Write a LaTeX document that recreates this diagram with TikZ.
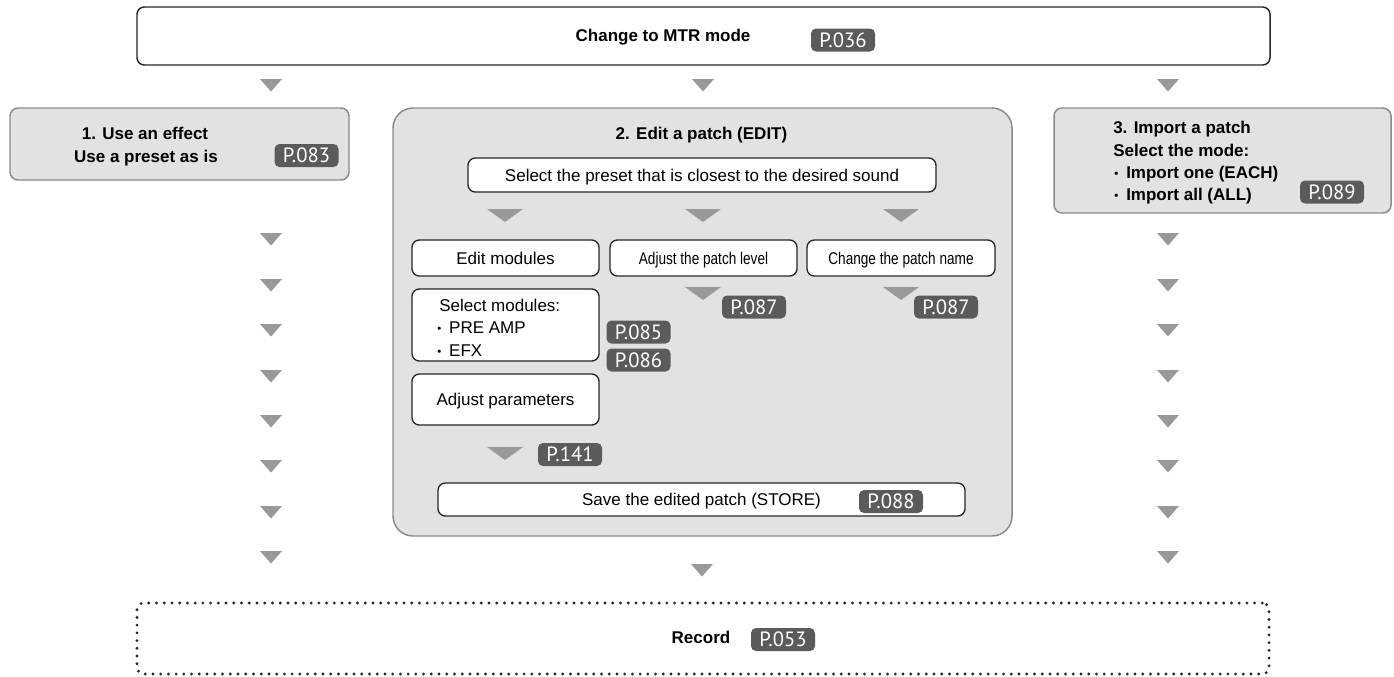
\documentclass[tikz,border=0pt]{standalone}
\usepackage{graphicx}
\usepackage{fontspec}
\setmainfont{Liberation Sans}
\newfontfamily\badgefont{PT Sans}
\newcommand{\mybul}{\raisebox{0.5pt}{\fontsize{8.5}{8.5}\selectfont\textbullet}\hspace{6pt}}
\definecolor{boxgray}{HTML}{E2E2E2}
\definecolor{boxborder}{HTML}{8A8A8A}
\definecolor{badgegray}{HTML}{5B5B5B}
\definecolor{trigray}{HTML}{999999}
\definecolor{linedark}{HTML}{262626}
\begin{document}
\begin{tikzpicture}[x=0.75pt,y=-0.75pt,
  sz/.style 2 args={minimum width=#1*0.75pt, minimum height=#2*0.75pt},
  reg/.style={font=\fontsize{12.75}{17}\selectfont, inner sep=0pt, text height=9.1pt, text depth=0pt},
  bld/.style={font=\fontsize{12.75}{17}\selectfont\bfseries, inner sep=0pt, text height=9.1pt, text depth=0pt},
  whitebox/.style={draw=linedark, line width=1pt, fill=white, rounded corners=5.5pt, inner sep=0pt},
  graybox/.style={draw=boxborder, line width=1.1pt, fill=boxgray, rounded corners=6pt, inner sep=0pt},
  badge/.style={fill=badgegray, rounded corners=3.75pt, text=white, font=\badgefont\fontsize{15.5}{15.5}\selectfont, minimum width=48pt, minimum height=17.25pt, inner sep=0pt, text height=10.8pt, text depth=0pt},
  dotbox/.style={draw=linedark, line width=2.4pt, dash pattern=on 0pt off 5.8pt, line cap=round, rounded corners=5pt, inner sep=0pt},
  smalltri/.pic={\fill[trigray] (-11,0) -- (11,0) -- (0,12.5) -- cycle;},
  widetri/.pic={\fill[trigray] (-18,0) -- (18,0) -- (0,13) -- cycle;}
]
\useasboundingbox (0,0) rectangle (1394,676);

% top box
\node[whitebox, line width=1.1pt, sz={1133}{58}] (top) at (703.5,36) {};
\node[bld, anchor=base] (toptext) at (663,41) {Change to MTR mode};
\node[badge] (b036) at (843,40) {P.036};

% first row of triangles
\pic at (271,79) {smalltri};
\pic at (703,79) {smalltri};
\pic at (1168,79) {smalltri};

% box 1
\node[graybox, sz={339}{72}] (box1) at (179.5,144) {};
\node[bld, anchor=base] (b1l1) at (145,139) {1. Use an effect};
\node[bld, anchor=base] (b1l2) at (146,162) {Use a preset as is};
\node[badge] (b083) at (306.5,155.5) {P.083};

% box 3
\node[graybox, sz={337}{105}] (box3) at (1222.5,160.5) {};
\node[bld, anchor=base west] (b3l1) at (1113,133) {3. Import a patch};
\node[bld, anchor=base west] (b3l2) at (1113,156) {Select the mode:};
\node[bld, anchor=base west] (b3l3) at (1114,178) {\mybul Import one (EACH)};
\node[bld, anchor=base west] (b3l4) at (1114,200) {\mybul Import all (ALL)};
\node[badge] (b089) at (1332,192) {P.089};

% box 2
\node[graybox, rounded corners=15pt, sz={619}{428}] (box2) at (702.5,322) {};
\node[bld, anchor=base] (b2title) at (701.5,139) {2. Edit a patch (EDIT)};
\node[whitebox, reg, sz={468}{34}] (sel) at (702,175) {Select the preset that is closest to the desired sound};

\pic at (505,209) {widetri};
\pic at (703,209) {widetri};
\pic at (901,209) {widetri};

\node[whitebox, reg, sz={187}{36}] (editmod) at (505.5,258) {Edit modules};
\node[whitebox, reg, sz={187}{36}] (adjlev) at (703.5,258) {\scalebox{0.8}[1]{Adjust the patch level}};
\node[whitebox, reg, sz={188}{36}] (chname) at (901,258) {\scalebox{0.8}[1]{Change the patch name}};

\pic at (703,287) {widetri};
\node[badge] (b087a) at (754,307) {P.087};
\pic at (901,287) {widetri};
\node[badge] (b087b) at (946,307) {P.087};

\node[whitebox, sz={187}{72}] (selmod) at (505.5,325) {};
\node[reg, anchor=base west] (sm1) at (439,311) {Select modules:};
\node[reg, anchor=base west] (sm2) at (437,333) {\mybul PRE AMP};
\node[reg, anchor=base west] (sm3) at (437,356) {\mybul EFX};
\node[badge] (b085) at (638.5,332) {P.085};
\node[badge] (b086) at (638.5,360) {P.086};

\node[whitebox, reg, sz={187}{51}] (adjpar) at (505.5,399.5) {Adjust parameters};
\pic at (505,447) {widetri};
\node[badge] (b141) at (570,454.5) {P.141};

\node[whitebox, reg, sz={527}{33}] (save) at (701.5,499.5) {Save the edited patch (STORE)};
\node[badge] (b088) at (891,501.5) {P.088};

% side columns of triangles
\foreach \yy in {233,279,324,370,415,460,506,551} {
  \pic at (271,\yy) {smalltri};
  \pic at (1168,\yy) {smalltri};
}
\pic at (702,564) {smalltri};

% record
\node[dotbox, sz={1132}{71}] (rec) at (703,638.5) {};
\node[bld, anchor=base] (rectext) at (701,643) {Record};
\node[badge] (b053) at (783,639.5) {P.053};
\end{tikzpicture}
\end{document}
